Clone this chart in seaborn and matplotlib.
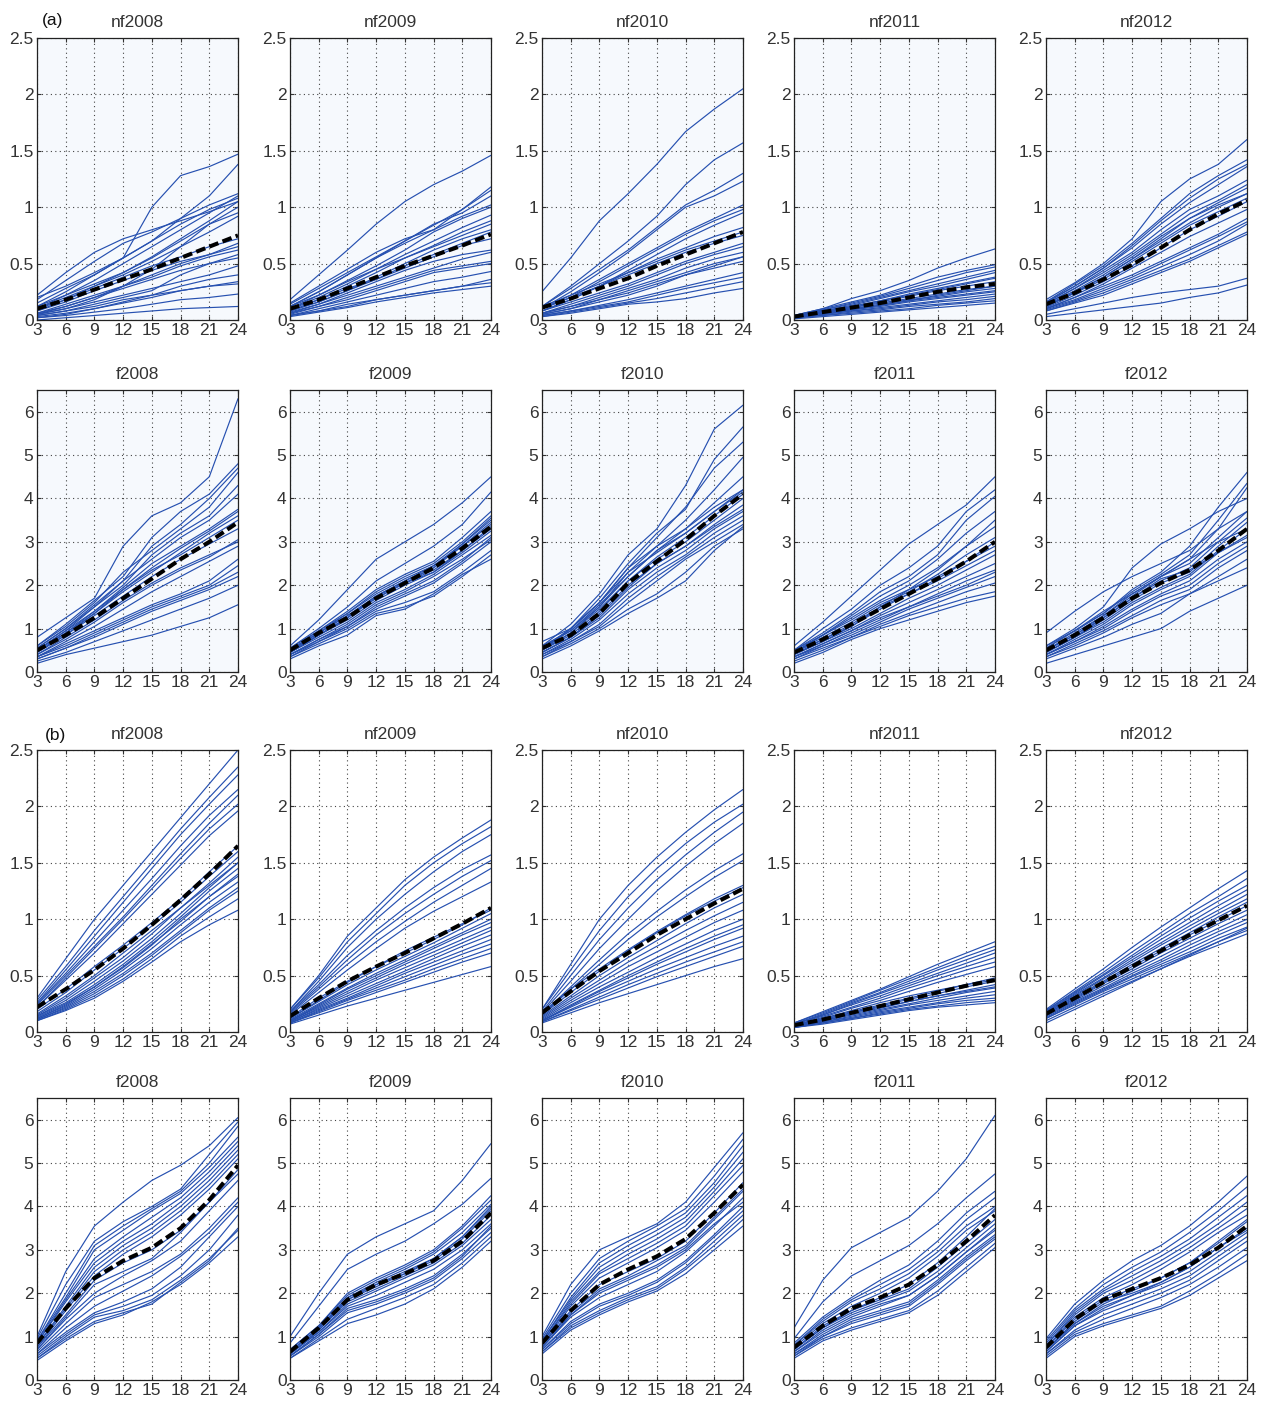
import numpy as np
import pandas as pd
import matplotlib
matplotlib.use("Agg")
import matplotlib.pyplot as plt
import seaborn as sns

months = [3, 6, 9, 12, 15, 18, 21, 24]
titles = ["nf2008", "nf2009", "nf2010", "nf2011", "nf2012",
          "f2008", "f2009", "f2010", "f2011", "f2012"]

# ---------------- group (a) ----------------
a_nf2008 = [
    [0.20, 0.30, 0.42, 0.55, 1.00, 1.28, 1.36, 1.47],
    [0.15, 0.28, 0.40, 0.55, 0.70, 0.90, 1.10, 1.38],
    [0.22, 0.42, 0.60, 0.72, 0.80, 0.88, 0.96, 1.05],
    [0.18, 0.35, 0.52, 0.68, 0.78, 0.90, 1.02, 1.12],
    [0.12, 0.25, 0.40, 0.55, 0.70, 0.85, 0.98, 1.08],
    [0.10, 0.22, 0.35, 0.50, 0.65, 0.80, 0.95, 1.10],
    [0.08, 0.18, 0.30, 0.42, 0.56, 0.72, 0.88, 1.05],
    [0.12, 0.22, 0.32, 0.42, 0.55, 0.70, 0.85, 0.95],
    [0.05, 0.10, 0.18, 0.30, 0.45, 0.65, 0.85, 1.00],
    [0.10, 0.18, 0.28, 0.38, 0.48, 0.56, 0.65, 0.72],
    [0.08, 0.16, 0.26, 0.35, 0.44, 0.52, 0.58, 0.65],
    [0.06, 0.14, 0.22, 0.30, 0.38, 0.48, 0.56, 0.62],
    [0.05, 0.12, 0.20, 0.28, 0.36, 0.44, 0.50, 0.58],
    [0.04, 0.08, 0.14, 0.20, 0.26, 0.40, 0.50, 0.55],
    [0.05, 0.10, 0.16, 0.22, 0.28, 0.34, 0.40, 0.48],
    [0.03, 0.06, 0.10, 0.16, 0.22, 0.30, 0.36, 0.40],
    [0.02, 0.05, 0.10, 0.15, 0.20, 0.26, 0.30, 0.34],
    [0.04, 0.08, 0.12, 0.18, 0.22, 0.26, 0.30, 0.32],
    [0.02, 0.04, 0.07, 0.10, 0.14, 0.18, 0.20, 0.23],
    [0.00, 0.02, 0.04, 0.06, 0.08, 0.10, 0.11, 0.12],
    [0.06, 0.12, 0.20, 0.30, 0.40, 0.50, 0.58, 0.68],
    [0.10, 0.20, 0.30, 0.40, 0.52, 0.65, 0.78, 0.92],
]
a_nf2008_mean = [0.10, 0.18, 0.27, 0.36, 0.45, 0.55, 0.65, 0.75]

a_nf2009 = [
    [0.18, 0.40, 0.62, 0.85, 1.05, 1.20, 1.32, 1.46],
    [0.15, 0.30, 0.45, 0.60, 0.72, 0.80, 0.98, 1.18],
    [0.14, 0.28, 0.42, 0.56, 0.70, 0.84, 0.98, 1.15],
    [0.12, 0.25, 0.40, 0.55, 0.70, 0.85, 0.95, 1.10],
    [0.12, 0.25, 0.40, 0.55, 0.68, 0.80, 0.92, 1.02],
    [0.10, 0.22, 0.35, 0.48, 0.62, 0.78, 0.90, 1.00],
    [0.10, 0.20, 0.32, 0.45, 0.58, 0.70, 0.82, 0.93],
    [0.12, 0.22, 0.34, 0.45, 0.55, 0.66, 0.78, 0.88],
    [0.08, 0.18, 0.30, 0.42, 0.55, 0.65, 0.75, 0.85],
    [0.08, 0.16, 0.26, 0.38, 0.50, 0.62, 0.72, 0.80],
    [0.10, 0.18, 0.28, 0.36, 0.46, 0.56, 0.66, 0.72],
    [0.06, 0.14, 0.24, 0.34, 0.44, 0.52, 0.58, 0.62],
    [0.07, 0.14, 0.22, 0.30, 0.38, 0.46, 0.54, 0.60],
    [0.05, 0.12, 0.20, 0.28, 0.36, 0.44, 0.48, 0.52],
    [0.06, 0.12, 0.18, 0.26, 0.34, 0.42, 0.46, 0.50],
    [0.04, 0.10, 0.16, 0.22, 0.28, 0.34, 0.38, 0.43],
    [0.04, 0.08, 0.14, 0.18, 0.22, 0.26, 0.30, 0.36],
    [0.04, 0.08, 0.12, 0.18, 0.22, 0.26, 0.30, 0.33],
    [0.03, 0.07, 0.11, 0.16, 0.20, 0.24, 0.27, 0.30],
    [0.08, 0.16, 0.26, 0.36, 0.48, 0.58, 0.68, 0.78],
]
a_nf2009_mean = [0.10, 0.18, 0.28, 0.38, 0.48, 0.57, 0.66, 0.76]

a_nf2010 = [
    [0.25, 0.55, 0.88, 1.12, 1.38, 1.67, 1.87, 2.05],
    [0.12, 0.30, 0.50, 0.70, 0.92, 1.20, 1.42, 1.57],
    [0.12, 0.28, 0.45, 0.62, 0.82, 1.02, 1.15, 1.30],
    [0.10, 0.25, 0.42, 0.60, 0.80, 1.00, 1.10, 1.23],
    [0.10, 0.22, 0.36, 0.50, 0.64, 0.78, 0.90, 1.02],
    [0.10, 0.20, 0.34, 0.48, 0.62, 0.76, 0.88, 0.98],
    [0.08, 0.18, 0.30, 0.44, 0.58, 0.72, 0.84, 0.95],
    [0.12, 0.22, 0.32, 0.42, 0.52, 0.62, 0.70, 0.78],
    [0.10, 0.20, 0.30, 0.40, 0.50, 0.60, 0.68, 0.75],
    [0.08, 0.16, 0.24, 0.32, 0.42, 0.52, 0.60, 0.68],
    [0.06, 0.14, 0.22, 0.30, 0.40, 0.50, 0.58, 0.65],
    [0.06, 0.12, 0.20, 0.28, 0.36, 0.46, 0.54, 0.60],
    [0.05, 0.10, 0.18, 0.26, 0.34, 0.42, 0.50, 0.56],
    [0.05, 0.10, 0.16, 0.22, 0.30, 0.40, 0.46, 0.52],
    [0.04, 0.08, 0.13, 0.18, 0.24, 0.30, 0.36, 0.42],
    [0.04, 0.08, 0.12, 0.16, 0.22, 0.28, 0.33, 0.38],
    [0.03, 0.07, 0.11, 0.15, 0.19, 0.24, 0.29, 0.34],
    [0.03, 0.06, 0.10, 0.14, 0.16, 0.19, 0.24, 0.28],
    [0.08, 0.18, 0.30, 0.42, 0.54, 0.64, 0.74, 0.82],
    [0.06, 0.12, 0.18, 0.24, 0.32, 0.40, 0.48, 0.56],
]
a_nf2010_mean = [0.11, 0.19, 0.28, 0.37, 0.48, 0.58, 0.68, 0.78]

a_nf2011 = [
    [0.04, 0.10, 0.19, 0.26, 0.35, 0.46, 0.55, 0.63],
    [0.04, 0.10, 0.16, 0.22, 0.30, 0.38, 0.44, 0.49],
    [0.04, 0.09, 0.15, 0.21, 0.28, 0.35, 0.42, 0.47],
    [0.04, 0.09, 0.14, 0.20, 0.26, 0.32, 0.38, 0.44],
    [0.03, 0.08, 0.13, 0.19, 0.25, 0.30, 0.36, 0.42],
    [0.03, 0.08, 0.12, 0.17, 0.22, 0.27, 0.32, 0.37],
    [0.03, 0.07, 0.11, 0.16, 0.21, 0.26, 0.30, 0.34],
    [0.03, 0.07, 0.11, 0.15, 0.19, 0.23, 0.27, 0.30],
    [0.03, 0.06, 0.10, 0.14, 0.18, 0.21, 0.25, 0.28],
    [0.02, 0.06, 0.09, 0.12, 0.16, 0.19, 0.22, 0.25],
    [0.02, 0.05, 0.08, 0.11, 0.14, 0.17, 0.20, 0.23],
    [0.02, 0.05, 0.08, 0.10, 0.13, 0.16, 0.18, 0.21],
    [0.02, 0.04, 0.07, 0.09, 0.12, 0.14, 0.16, 0.19],
    [0.02, 0.04, 0.06, 0.08, 0.10, 0.13, 0.15, 0.17],
    [0.01, 0.03, 0.05, 0.07, 0.09, 0.11, 0.13, 0.15],
    [0.03, 0.07, 0.12, 0.17, 0.23, 0.28, 0.33, 0.38],
    [0.03, 0.06, 0.10, 0.13, 0.17, 0.20, 0.23, 0.26],
    [0.02, 0.05, 0.09, 0.13, 0.17, 0.22, 0.26, 0.30],
]
a_nf2011_mean = [0.03, 0.07, 0.11, 0.15, 0.20, 0.25, 0.29, 0.32]

a_nf2012 = [
    [0.18, 0.33, 0.50, 0.72, 1.05, 1.25, 1.38, 1.60],
    [0.16, 0.32, 0.48, 0.68, 0.90, 1.12, 1.28, 1.42],
    [0.16, 0.30, 0.46, 0.66, 0.88, 1.08, 1.25, 1.38],
    [0.15, 0.30, 0.46, 0.64, 0.85, 1.04, 1.20, 1.36],
    [0.14, 0.28, 0.44, 0.60, 0.80, 0.98, 1.10, 1.24],
    [0.14, 0.28, 0.42, 0.58, 0.76, 0.94, 1.06, 1.20],
    [0.13, 0.26, 0.40, 0.56, 0.74, 0.90, 1.04, 1.17],
    [0.12, 0.25, 0.38, 0.54, 0.70, 0.86, 1.00, 1.12],
    [0.12, 0.24, 0.36, 0.52, 0.68, 0.84, 0.96, 1.08],
    [0.11, 0.22, 0.34, 0.48, 0.64, 0.80, 0.92, 1.05],
    [0.10, 0.20, 0.30, 0.40, 0.52, 0.64, 0.76, 0.90],
    [0.10, 0.18, 0.28, 0.38, 0.50, 0.62, 0.74, 0.87],
    [0.09, 0.17, 0.26, 0.36, 0.47, 0.58, 0.70, 0.85],
    [0.08, 0.16, 0.24, 0.34, 0.44, 0.54, 0.66, 0.78],
    [0.08, 0.15, 0.22, 0.32, 0.42, 0.52, 0.64, 0.76],
    [0.05, 0.10, 0.15, 0.20, 0.24, 0.27, 0.30, 0.37],
    [0.03, 0.06, 0.09, 0.12, 0.15, 0.20, 0.24, 0.31],
    [0.12, 0.24, 0.38, 0.54, 0.72, 0.90, 1.02, 1.12],
    [0.10, 0.20, 0.32, 0.46, 0.60, 0.74, 0.86, 0.98],
]
a_nf2012_mean = [0.14, 0.24, 0.36, 0.49, 0.64, 0.80, 0.94, 1.06]

a_f2008 = [
    [0.80, 1.25, 1.70, 2.90, 3.60, 3.90, 4.50, 6.30],
    [0.60, 1.10, 1.65, 2.20, 3.10, 3.70, 4.10, 4.80],
    [0.55, 1.00, 1.55, 2.10, 2.90, 3.40, 4.00, 4.70],
    [0.60, 1.05, 1.60, 2.30, 2.80, 3.30, 3.80, 4.60],
    [0.50, 0.95, 1.50, 2.00, 2.70, 3.20, 3.60, 4.30],
    [0.55, 1.00, 1.50, 2.10, 2.60, 3.10, 3.50, 4.10],
    [0.50, 0.95, 1.40, 1.95, 2.50, 2.90, 3.30, 3.75],
    [0.45, 0.90, 1.40, 1.90, 2.40, 2.85, 3.25, 3.70],
    [0.50, 0.90, 1.35, 1.85, 2.30, 2.75, 3.20, 3.60],
    [0.45, 0.85, 1.30, 1.75, 2.20, 2.60, 2.95, 3.30],
    [0.40, 0.80, 1.20, 1.65, 2.05, 2.40, 2.70, 3.00],
    [0.40, 0.75, 1.15, 1.60, 2.00, 2.35, 2.65, 3.05],
    [0.35, 0.70, 1.05, 1.45, 1.85, 2.20, 2.55, 2.90],
    [0.35, 0.65, 0.95, 1.25, 1.55, 1.80, 2.10, 2.60],
    [0.35, 0.60, 0.90, 1.20, 1.50, 1.75, 2.00, 2.45],
    [0.30, 0.55, 0.85, 1.15, 1.45, 1.70, 1.95, 2.30],
    [0.30, 0.55, 0.80, 1.10, 1.40, 1.65, 1.90, 2.20],
    [0.25, 0.45, 0.70, 0.95, 1.20, 1.45, 1.70, 2.00],
    [0.20, 0.40, 0.55, 0.70, 0.85, 1.05, 1.25, 1.55],
    [0.45, 0.85, 1.35, 1.90, 2.35, 2.70, 3.10, 3.50],
]
a_f2008_mean = [0.50, 0.85, 1.25, 1.70, 2.15, 2.60, 3.00, 3.45]

a_f2009 = [
    [0.60, 1.20, 1.90, 2.60, 3.00, 3.40, 3.90, 4.50],
    [0.55, 1.00, 1.50, 2.10, 2.50, 2.90, 3.40, 4.15],
    [0.55, 0.95, 1.40, 1.90, 2.25, 2.55, 3.10, 3.70],
    [0.50, 0.90, 1.35, 1.85, 2.20, 2.50, 3.00, 3.60],
    [0.50, 0.95, 1.35, 1.80, 2.15, 2.45, 2.95, 3.55],
    [0.50, 0.90, 1.30, 1.75, 2.10, 2.40, 2.90, 3.45],
    [0.45, 0.85, 1.25, 1.75, 2.10, 2.45, 2.90, 3.40],
    [0.45, 0.85, 1.25, 1.70, 2.05, 2.35, 2.80, 3.30],
    [0.50, 0.85, 1.20, 1.65, 2.00, 2.30, 2.75, 3.25],
    [0.45, 0.80, 1.15, 1.60, 1.90, 2.25, 2.70, 3.15],
    [0.40, 0.75, 1.10, 1.55, 1.85, 2.20, 2.60, 3.05],
    [0.40, 0.75, 1.05, 1.45, 1.75, 2.05, 2.50, 3.00],
    [0.35, 0.70, 1.00, 1.40, 1.60, 1.85, 2.30, 2.80],
    [0.35, 0.65, 0.95, 1.35, 1.50, 1.75, 2.20, 2.70],
    [0.30, 0.60, 0.85, 1.30, 1.45, 1.80, 2.25, 2.60],
    [0.40, 0.70, 1.05, 1.50, 1.80, 2.10, 2.55, 3.10],
    [0.45, 0.85, 1.25, 1.75, 2.05, 2.30, 2.80, 3.35],
    [0.50, 0.90, 1.30, 1.70, 2.05, 2.40, 2.95, 3.50],
]
a_f2009_mean = [0.50, 0.90, 1.25, 1.70, 2.05, 2.40, 2.85, 3.35]

a_f2010 = [
    [0.60, 1.10, 1.80, 2.70, 3.30, 4.30, 5.60, 6.15],
    [0.55, 1.00, 1.70, 2.50, 3.20, 3.75, 4.90, 5.65],
    [0.50, 1.00, 1.60, 2.40, 3.10, 3.80, 4.70, 5.30],
    [0.50, 1.00, 1.60, 2.30, 2.90, 3.50, 4.20, 4.95],
    [0.55, 0.95, 1.55, 2.20, 2.80, 3.30, 3.90, 4.50],
    [0.50, 0.90, 1.50, 2.20, 2.80, 3.20, 3.70, 4.20],
    [0.50, 0.90, 1.45, 2.10, 2.65, 3.10, 3.60, 4.10],
    [0.50, 0.85, 1.40, 2.10, 2.60, 3.00, 3.50, 4.00],
    [0.45, 0.80, 1.30, 1.95, 2.50, 2.90, 3.40, 3.85],
    [0.45, 0.80, 1.25, 1.90, 2.40, 2.80, 3.30, 3.70],
    [0.40, 0.75, 1.20, 1.80, 2.30, 2.70, 3.20, 3.60],
    [0.40, 0.70, 1.10, 1.70, 2.20, 2.65, 3.10, 3.50],
    [0.35, 0.70, 1.05, 1.60, 2.10, 2.60, 3.00, 3.40],
    [0.35, 0.65, 1.00, 1.45, 1.80, 2.30, 2.90, 3.30],
    [0.30, 0.60, 0.95, 1.35, 1.70, 2.10, 2.80, 3.35],
    [0.70, 1.00, 1.60, 2.40, 2.90, 3.30, 3.80, 4.20],
    [0.60, 0.95, 1.50, 2.30, 2.75, 3.20, 3.70, 4.15],
    [0.45, 0.80, 1.35, 2.00, 2.50, 2.90, 3.35, 3.75],
]
a_f2010_mean = [0.55, 0.85, 1.35, 2.05, 2.55, 3.05, 3.60, 4.10]

a_f2011 = [
    [0.60, 1.15, 1.75, 2.35, 2.95, 3.40, 3.85, 4.50],
    [0.50, 1.00, 1.45, 2.00, 2.40, 2.90, 3.70, 4.20],
    [0.50, 0.90, 1.35, 1.85, 2.20, 2.70, 3.50, 4.05],
    [0.45, 0.85, 1.30, 1.75, 2.10, 2.60, 3.20, 3.70],
    [0.45, 0.85, 1.20, 1.60, 1.90, 2.35, 2.90, 3.35],
    [0.45, 0.80, 1.15, 1.55, 1.85, 2.25, 2.70, 3.10],
    [0.45, 0.75, 1.05, 1.45, 1.80, 2.15, 2.55, 3.00],
    [0.40, 0.70, 1.05, 1.50, 1.90, 2.20, 2.55, 2.90],
    [0.40, 0.70, 1.00, 1.35, 1.70, 2.00, 2.35, 2.70],
    [0.35, 0.65, 0.95, 1.30, 1.60, 1.90, 2.20, 2.50],
    [0.35, 0.60, 0.90, 1.20, 1.50, 1.80, 2.10, 2.35],
    [0.30, 0.60, 0.85, 1.15, 1.45, 1.70, 1.95, 2.20],
    [0.30, 0.55, 0.80, 1.10, 1.35, 1.60, 1.85, 2.05],
    [0.25, 0.50, 0.80, 1.05, 1.30, 1.50, 1.70, 1.85],
    [0.20, 0.45, 0.75, 1.00, 1.20, 1.40, 1.60, 1.75],
    [0.50, 0.85, 1.25, 1.65, 2.00, 2.40, 2.90, 3.50],
    [0.40, 0.75, 1.10, 1.50, 1.80, 2.10, 2.45, 2.80],
    [0.35, 0.65, 0.95, 1.25, 1.50, 1.75, 2.00, 2.30],
]
a_f2011_mean = [0.45, 0.75, 1.10, 1.45, 1.80, 2.15, 2.55, 3.00]

a_f2012 = [
    [0.90, 1.40, 1.85, 2.20, 2.50, 2.80, 3.30, 3.70],
    [0.60, 1.00, 1.50, 2.40, 2.95, 3.30, 3.70, 4.00],
    [0.60, 0.95, 1.35, 1.90, 2.30, 2.90, 3.80, 4.60],
    [0.55, 0.95, 1.35, 1.85, 2.25, 2.70, 3.50, 4.35],
    [0.55, 0.95, 1.40, 1.80, 2.20, 2.60, 3.30, 4.25],
    [0.50, 0.90, 1.30, 1.75, 2.20, 2.50, 3.10, 3.70],
    [0.50, 0.85, 1.25, 1.70, 2.10, 2.40, 3.00, 3.55],
    [0.45, 0.80, 1.20, 1.65, 2.05, 2.30, 2.90, 3.45],
    [0.45, 0.80, 1.15, 1.60, 1.95, 2.25, 2.80, 3.30],
    [0.40, 0.75, 1.10, 1.55, 1.90, 2.20, 2.75, 3.15],
    [0.40, 0.70, 1.05, 1.45, 1.80, 2.10, 2.60, 3.00],
    [0.40, 0.70, 1.00, 1.40, 1.75, 2.00, 2.50, 2.90],
    [0.35, 0.65, 0.95, 1.30, 1.65, 1.90, 2.40, 2.80],
    [0.35, 0.60, 0.90, 1.25, 1.55, 1.80, 2.20, 2.60],
    [0.30, 0.55, 0.80, 1.10, 1.35, 1.80, 2.10, 2.40],
    [0.20, 0.40, 0.60, 0.80, 1.00, 1.40, 1.70, 2.00],
    [0.50, 0.85, 1.30, 1.80, 2.20, 2.60, 3.00, 3.30],
    [0.45, 0.80, 1.25, 1.70, 2.15, 2.35, 2.75, 3.10],
]
a_f2012_mean = [0.50, 0.85, 1.25, 1.70, 2.05, 2.35, 2.80, 3.30]

# ---------------- group (b) ----------------
b_nf2008 = [
    [0.30, 0.65, 1.00, 1.30, 1.60, 1.90, 2.20, 2.50],
    [0.28, 0.58, 0.90, 1.20, 1.50, 1.80, 2.08, 2.35],
    [0.26, 0.55, 0.85, 1.15, 1.45, 1.75, 2.02, 2.28],
    [0.25, 0.52, 0.80, 1.08, 1.36, 1.65, 1.92, 2.15],
    [0.24, 0.50, 0.76, 1.02, 1.30, 1.58, 1.85, 2.10],
    [0.22, 0.48, 0.74, 1.00, 1.27, 1.54, 1.80, 2.02],
    [0.22, 0.46, 0.70, 0.96, 1.22, 1.48, 1.74, 1.96],
    [0.20, 0.38, 0.58, 0.77, 0.97, 1.18, 1.42, 1.65],
    [0.18, 0.35, 0.55, 0.74, 0.94, 1.15, 1.38, 1.60],
    [0.15, 0.30, 0.48, 0.66, 0.87, 1.10, 1.32, 1.55],
    [0.14, 0.28, 0.45, 0.63, 0.83, 1.05, 1.28, 1.50],
    [0.14, 0.26, 0.42, 0.60, 0.80, 1.02, 1.25, 1.45],
    [0.12, 0.24, 0.40, 0.57, 0.77, 1.00, 1.20, 1.38],
    [0.12, 0.23, 0.38, 0.55, 0.74, 0.95, 1.15, 1.33],
    [0.11, 0.22, 0.36, 0.52, 0.70, 0.90, 1.10, 1.28],
    [0.11, 0.21, 0.34, 0.50, 0.68, 0.88, 1.08, 1.25],
    [0.10, 0.20, 0.32, 0.47, 0.65, 0.85, 1.02, 1.18],
    [0.10, 0.19, 0.30, 0.45, 0.62, 0.80, 0.95, 1.08],
    [0.13, 0.25, 0.40, 0.58, 0.78, 0.98, 1.20, 1.40],
    [0.16, 0.32, 0.50, 0.70, 0.90, 1.10, 1.30, 1.50],
]
b_nf2008_mean = [0.22, 0.38, 0.55, 0.74, 0.95, 1.17, 1.40, 1.65]

b_nf2009 = [
    [0.20, 0.50, 0.85, 1.10, 1.35, 1.55, 1.72, 1.88],
    [0.20, 0.48, 0.80, 1.05, 1.30, 1.50, 1.67, 1.82],
    [0.18, 0.45, 0.75, 1.00, 1.22, 1.42, 1.60, 1.75],
    [0.18, 0.42, 0.68, 0.90, 1.10, 1.28, 1.44, 1.57],
    [0.17, 0.40, 0.64, 0.86, 1.05, 1.22, 1.38, 1.52],
    [0.16, 0.38, 0.60, 0.80, 0.98, 1.15, 1.30, 1.45],
    [0.15, 0.35, 0.55, 0.74, 0.92, 1.07, 1.20, 1.33],
    [0.13, 0.30, 0.45, 0.58, 0.70, 0.82, 0.95, 1.10],
    [0.12, 0.27, 0.42, 0.55, 0.67, 0.79, 0.92, 1.05],
    [0.11, 0.25, 0.39, 0.52, 0.64, 0.76, 0.88, 1.00],
    [0.10, 0.23, 0.36, 0.48, 0.60, 0.71, 0.82, 0.93],
    [0.10, 0.22, 0.34, 0.46, 0.57, 0.68, 0.79, 0.90],
    [0.09, 0.21, 0.32, 0.43, 0.54, 0.65, 0.76, 0.86],
    [0.09, 0.20, 0.30, 0.41, 0.52, 0.62, 0.72, 0.82],
    [0.08, 0.19, 0.29, 0.39, 0.49, 0.59, 0.69, 0.78],
    [0.08, 0.18, 0.28, 0.37, 0.46, 0.56, 0.65, 0.74],
    [0.08, 0.17, 0.26, 0.35, 0.44, 0.53, 0.62, 0.70],
    [0.07, 0.15, 0.23, 0.30, 0.37, 0.44, 0.51, 0.58],
    [0.12, 0.28, 0.44, 0.58, 0.72, 0.84, 0.96, 1.08],
    [0.10, 0.24, 0.38, 0.50, 0.62, 0.74, 0.86, 0.97],
]
b_nf2009_mean = [0.14, 0.30, 0.45, 0.58, 0.70, 0.83, 0.96, 1.10]

b_nf2010 = [
    [0.20, 0.60, 1.00, 1.30, 1.55, 1.77, 1.97, 2.15],
    [0.20, 0.55, 0.90, 1.20, 1.45, 1.67, 1.86, 2.02],
    [0.18, 0.50, 0.82, 1.10, 1.35, 1.57, 1.77, 1.95],
    [0.17, 0.45, 0.74, 1.00, 1.25, 1.47, 1.67, 1.85],
    [0.16, 0.40, 0.64, 0.87, 1.07, 1.26, 1.43, 1.58],
    [0.15, 0.38, 0.60, 0.82, 1.02, 1.20, 1.37, 1.52],
    [0.17, 0.38, 0.56, 0.73, 0.89, 1.04, 1.18, 1.30],
    [0.14, 0.32, 0.50, 0.66, 0.81, 0.96, 1.10, 1.22],
    [0.13, 0.30, 0.46, 0.62, 0.76, 0.90, 1.03, 1.15],
    [0.12, 0.28, 0.43, 0.58, 0.71, 0.84, 0.97, 1.08],
    [0.11, 0.26, 0.40, 0.53, 0.66, 0.78, 0.90, 1.00],
    [0.10, 0.24, 0.37, 0.50, 0.62, 0.74, 0.85, 0.95],
    [0.10, 0.23, 0.36, 0.48, 0.60, 0.71, 0.82, 0.92],
    [0.10, 0.22, 0.34, 0.45, 0.56, 0.66, 0.76, 0.85],
    [0.09, 0.20, 0.31, 0.42, 0.52, 0.62, 0.71, 0.80],
    [0.09, 0.19, 0.29, 0.39, 0.49, 0.58, 0.67, 0.76],
    [0.08, 0.17, 0.26, 0.34, 0.42, 0.50, 0.58, 0.65],
    [0.15, 0.35, 0.54, 0.72, 0.88, 1.03, 1.16, 1.28],
]
b_nf2010_mean = [0.17, 0.36, 0.54, 0.70, 0.86, 1.00, 1.14, 1.27]

b_nf2011 = [
    [0.08, 0.18, 0.28, 0.38, 0.49, 0.60, 0.70, 0.80],
    [0.08, 0.17, 0.27, 0.37, 0.47, 0.57, 0.67, 0.76],
    [0.07, 0.16, 0.26, 0.35, 0.45, 0.55, 0.64, 0.73],
    [0.07, 0.15, 0.25, 0.34, 0.43, 0.52, 0.61, 0.70],
    [0.07, 0.15, 0.24, 0.32, 0.41, 0.50, 0.58, 0.66],
    [0.07, 0.14, 0.22, 0.30, 0.39, 0.47, 0.55, 0.62],
    [0.06, 0.13, 0.21, 0.28, 0.36, 0.44, 0.51, 0.58],
    [0.06, 0.12, 0.18, 0.24, 0.30, 0.36, 0.42, 0.48],
    [0.06, 0.11, 0.17, 0.23, 0.29, 0.34, 0.40, 0.45],
    [0.05, 0.10, 0.16, 0.21, 0.27, 0.32, 0.37, 0.42],
    [0.05, 0.10, 0.15, 0.20, 0.25, 0.30, 0.35, 0.39],
    [0.05, 0.09, 0.14, 0.19, 0.24, 0.28, 0.32, 0.36],
    [0.04, 0.09, 0.13, 0.18, 0.22, 0.26, 0.30, 0.33],
    [0.04, 0.08, 0.12, 0.17, 0.21, 0.25, 0.28, 0.30],
    [0.04, 0.08, 0.12, 0.16, 0.20, 0.23, 0.26, 0.28],
    [0.04, 0.07, 0.11, 0.15, 0.19, 0.22, 0.24, 0.26],
    [0.06, 0.12, 0.19, 0.26, 0.32, 0.37, 0.42, 0.46],
    [0.05, 0.11, 0.17, 0.22, 0.27, 0.32, 0.36, 0.40],
]
b_nf2011_mean = [0.06, 0.11, 0.17, 0.23, 0.29, 0.35, 0.41, 0.46]

b_nf2012 = [
    [0.20, 0.38, 0.56, 0.75, 0.93, 1.10, 1.27, 1.43],
    [0.19, 0.36, 0.53, 0.71, 0.88, 1.05, 1.20, 1.36],
    [0.19, 0.35, 0.51, 0.68, 0.85, 1.01, 1.16, 1.30],
    [0.18, 0.34, 0.50, 0.66, 0.82, 0.97, 1.12, 1.26],
    [0.18, 0.33, 0.48, 0.64, 0.79, 0.94, 1.08, 1.22],
    [0.17, 0.32, 0.47, 0.62, 0.77, 0.91, 1.05, 1.18],
    [0.17, 0.31, 0.45, 0.60, 0.74, 0.88, 1.02, 1.15],
    [0.16, 0.30, 0.44, 0.58, 0.72, 0.86, 0.99, 1.12],
    [0.16, 0.29, 0.43, 0.56, 0.70, 0.83, 0.96, 1.08],
    [0.15, 0.28, 0.41, 0.54, 0.67, 0.80, 0.92, 1.04],
    [0.14, 0.27, 0.39, 0.52, 0.64, 0.77, 0.89, 1.00],
    [0.13, 0.26, 0.38, 0.50, 0.62, 0.74, 0.86, 0.97],
    [0.12, 0.25, 0.37, 0.49, 0.60, 0.71, 0.83, 0.93],
    [0.12, 0.24, 0.36, 0.47, 0.58, 0.69, 0.80, 0.90],
    [0.10, 0.22, 0.34, 0.45, 0.56, 0.67, 0.77, 0.87],
    [0.08, 0.20, 0.32, 0.44, 0.56, 0.68, 0.80, 0.92],
]
b_nf2012_mean = [0.16, 0.30, 0.44, 0.58, 0.72, 0.86, 0.99, 1.12]

b_f2008 = [
    [1.00, 2.50, 3.55, 4.10, 4.60, 4.95, 5.40, 6.05],
    [0.95, 2.20, 3.20, 3.65, 4.00, 4.40, 5.20, 5.95],
    [0.90, 2.00, 3.10, 3.55, 3.95, 4.35, 5.00, 5.85],
    [0.90, 1.90, 3.00, 3.45, 3.90, 4.30, 4.90, 5.60],
    [0.85, 1.85, 2.80, 3.30, 3.75, 4.20, 4.80, 5.50],
    [0.85, 1.80, 2.70, 3.20, 3.60, 4.10, 4.70, 5.40],
    [0.80, 1.70, 2.60, 3.10, 3.50, 4.00, 4.60, 5.30],
    [0.80, 1.65, 2.50, 3.00, 3.40, 3.90, 4.50, 5.20],
    [0.75, 1.60, 2.40, 2.90, 3.30, 3.80, 4.40, 5.10],
    [0.70, 1.45, 2.20, 2.50, 2.80, 3.40, 4.10, 4.75],
    [0.70, 1.40, 2.00, 2.40, 2.75, 3.20, 3.90, 4.60],
    [0.65, 1.30, 1.90, 2.20, 2.50, 2.90, 3.50, 4.20],
    [0.60, 1.20, 1.70, 2.05, 2.40, 2.85, 3.40, 4.10],
    [0.60, 1.10, 1.55, 1.80, 2.10, 2.60, 3.30, 4.00],
    [0.55, 1.05, 1.50, 1.70, 1.95, 2.40, 3.00, 3.80],
    [0.50, 1.00, 1.45, 1.60, 1.85, 2.30, 2.80, 3.45],
    [0.45, 0.90, 1.30, 1.50, 1.80, 2.20, 2.70, 3.30],
    [0.50, 0.95, 1.35, 1.55, 1.75, 2.25, 2.75, 3.50],
    [0.75, 1.50, 2.30, 2.70, 3.00, 3.45, 4.10, 4.85],
]
b_f2008_mean = [0.85, 1.65, 2.35, 2.75, 3.05, 3.50, 4.15, 4.95]

b_f2009 = [
    [1.00, 2.00, 2.90, 3.30, 3.60, 3.90, 4.60, 5.45],
    [0.85, 1.70, 2.55, 2.90, 3.20, 3.60, 4.05, 4.65],
    [0.70, 1.25, 2.00, 2.35, 2.65, 3.00, 3.55, 4.25],
    [0.70, 1.25, 1.95, 2.30, 2.60, 2.95, 3.50, 4.15],
    [0.65, 1.20, 1.90, 2.25, 2.55, 2.90, 3.40, 4.05],
    [0.65, 1.20, 1.85, 2.20, 2.50, 2.80, 3.30, 3.95],
    [0.60, 1.15, 1.80, 2.10, 2.40, 2.70, 3.15, 3.80],
    [0.60, 1.10, 1.75, 2.05, 2.35, 2.65, 3.10, 3.70],
    [0.60, 1.10, 1.70, 1.95, 2.25, 2.55, 3.00, 3.60],
    [0.55, 1.05, 1.65, 1.85, 2.10, 2.40, 2.90, 3.50],
    [0.55, 1.00, 1.55, 1.75, 2.00, 2.30, 2.80, 3.40],
    [0.50, 0.95, 1.40, 1.65, 1.90, 2.20, 2.70, 3.30],
    [0.50, 0.90, 1.30, 1.50, 1.75, 2.10, 2.60, 3.20],
    [0.55, 1.05, 1.60, 1.80, 2.05, 2.35, 2.85, 3.55],
    [0.60, 1.15, 1.85, 2.15, 2.45, 2.75, 3.25, 3.90],
    [0.65, 1.20, 1.90, 2.20, 2.45, 2.80, 3.30, 4.00],
]
b_f2009_mean = [0.65, 1.20, 1.85, 2.20, 2.45, 2.75, 3.20, 3.85]

b_f2010 = [
    [1.00, 2.20, 3.00, 3.30, 3.60, 4.10, 4.90, 5.70],
    [0.95, 2.00, 2.80, 3.20, 3.55, 3.95, 4.70, 5.55],
    [0.90, 1.90, 2.70, 3.10, 3.45, 3.85, 4.55, 5.40],
    [0.90, 1.85, 2.60, 3.00, 3.35, 3.75, 4.45, 5.25],
    [0.85, 1.80, 2.50, 2.90, 3.25, 3.65, 4.35, 5.10],
    [0.85, 1.75, 2.45, 2.80, 3.15, 3.55, 4.25, 4.95],
    [0.80, 1.70, 2.35, 2.70, 3.05, 3.45, 4.10, 4.80],
    [0.80, 1.60, 2.20, 2.50, 2.80, 3.20, 3.85, 4.55],
    [0.75, 1.50, 2.05, 2.35, 2.65, 3.05, 3.70, 4.35],
    [0.75, 1.45, 1.90, 2.20, 2.50, 2.95, 3.55, 4.20],
    [0.70, 1.35, 1.75, 2.00, 2.30, 2.75, 3.35, 4.00],
    [0.70, 1.30, 1.70, 1.95, 2.25, 2.70, 3.30, 3.90],
    [0.65, 1.25, 1.60, 1.90, 2.15, 2.60, 3.20, 3.80],
    [0.65, 1.20, 1.55, 1.85, 2.10, 2.55, 3.10, 3.70],
    [0.60, 1.15, 1.50, 1.80, 2.05, 2.45, 3.00, 3.55],
    [0.80, 1.55, 2.10, 2.40, 2.75, 3.10, 3.75, 4.40],
    [0.75, 1.50, 2.00, 2.30, 2.60, 3.00, 3.60, 4.10],
]
b_f2010_mean = [0.85, 1.60, 2.20, 2.55, 2.85, 3.25, 3.85, 4.50]

b_f2011 = [
    [1.20, 2.30, 3.05, 3.40, 3.75, 4.35, 5.10, 6.10],
    [0.95, 1.80, 2.40, 2.75, 3.10, 3.60, 4.20, 4.75],
    [0.85, 1.45, 1.90, 2.30, 2.65, 3.20, 3.85, 4.35],
    [0.80, 1.40, 1.85, 2.20, 2.55, 3.05, 3.70, 4.20],
    [0.80, 1.35, 1.80, 2.10, 2.45, 2.95, 3.55, 4.00],
    [0.75, 1.30, 1.70, 2.00, 2.35, 2.85, 3.45, 3.90],
    [0.70, 1.25, 1.60, 1.85, 2.10, 2.60, 3.15, 3.70],
    [0.70, 1.20, 1.55, 1.80, 2.05, 2.50, 3.05, 3.60],
    [0.65, 1.15, 1.50, 1.75, 1.95, 2.40, 2.95, 3.50],
    [0.60, 1.05, 1.40, 1.60, 1.80, 2.30, 2.85, 3.35],
    [0.60, 1.00, 1.30, 1.50, 1.70, 2.20, 2.75, 3.25],
    [0.55, 0.95, 1.20, 1.40, 1.60, 2.05, 2.60, 3.15],
    [0.50, 0.90, 1.15, 1.35, 1.55, 1.95, 2.50, 3.05],
    [0.55, 1.00, 1.35, 1.55, 1.75, 2.25, 2.80, 3.30],
    [0.70, 1.20, 1.60, 1.90, 2.20, 2.70, 3.30, 3.95],
    [0.65, 1.10, 1.45, 1.70, 1.95, 2.40, 2.95, 3.45],
]
b_f2011_mean = [0.75, 1.25, 1.65, 1.90, 2.20, 2.65, 3.20, 3.80]

b_f2012 = [
    [0.95, 1.75, 2.30, 2.75, 3.10, 3.55, 4.10, 4.70],
    [0.90, 1.65, 2.20, 2.60, 2.95, 3.40, 3.90, 4.45],
    [0.85, 1.60, 2.10, 2.50, 2.85, 3.25, 3.75, 4.25],
    [0.80, 1.55, 2.05, 2.40, 2.75, 3.15, 3.60, 4.10],
    [0.80, 1.50, 2.00, 2.30, 2.65, 3.05, 3.50, 3.95],
    [0.75, 1.45, 1.90, 2.20, 2.55, 2.95, 3.40, 3.80],
    [0.75, 1.40, 1.85, 2.10, 2.35, 2.70, 3.15, 3.65],
    [0.70, 1.35, 1.80, 2.00, 2.25, 2.60, 3.05, 3.50],
    [0.70, 1.30, 1.70, 1.95, 2.20, 2.50, 2.95, 3.40],
    [0.65, 1.25, 1.60, 1.85, 2.10, 2.40, 2.85, 3.30],
    [0.60, 1.15, 1.50, 1.75, 2.00, 2.30, 2.75, 3.20],
    [0.60, 1.10, 1.40, 1.65, 1.90, 2.20, 2.60, 3.05],
    [0.55, 1.05, 1.30, 1.50, 1.70, 2.05, 2.45, 2.90],
    [0.50, 1.00, 1.25, 1.45, 1.65, 1.95, 2.35, 2.75],
    [0.70, 1.30, 1.75, 2.05, 2.35, 2.70, 3.20, 3.70],
    [0.65, 1.25, 1.65, 1.95, 2.25, 2.60, 3.05, 3.45],
]
b_f2012_mean = [0.75, 1.40, 1.85, 2.10, 2.35, 2.65, 3.05, 3.55]

groups = {
    "a": [(a_nf2008, a_nf2008_mean), (a_nf2009, a_nf2009_mean), (a_nf2010, a_nf2010_mean),
          (a_nf2011, a_nf2011_mean), (a_nf2012, a_nf2012_mean),
          (a_f2008, a_f2008_mean), (a_f2009, a_f2009_mean), (a_f2010, a_f2010_mean),
          (a_f2011, a_f2011_mean), (a_f2012, a_f2012_mean)],
    "b": [(b_nf2008, b_nf2008_mean), (b_nf2009, b_nf2009_mean), (b_nf2010, b_nf2010_mean),
          (b_nf2011, b_nf2011_mean), (b_nf2012, b_nf2012_mean),
          (b_f2008, b_f2008_mean), (b_f2009, b_f2009_mean), (b_f2010, b_f2010_mean),
          (b_f2011, b_f2011_mean), (b_f2012, b_f2012_mean)],
}

nf_yticks = [0, 0.5, 1, 1.5, 2, 2.5]
nf_ylabels = ["0", "0.5", "1", "1.5", "2", "2.5"]
f_yticks = [0, 1, 2, 3, 4, 5, 6]
f_ylabels = ["0", "1", "2", "3", "4", "5", "6"]

# ---------------- figure ----------------
sns.set_theme(style="white")
plt.rcParams["font.family"] = ["Liberation Sans", "DejaVu Sans"]

W, H = 1263, 1402
fig = plt.figure(figsize=(W / 100, H / 100), dpi=100)

col_left = [37, 290, 542, 794, 1046]
ax_w = 201
ax_h = 282
row_bottom = {"a": [320, 672], "b": [1032, 1380]}
face = {"a": "#f6f9fd", "b": "#ffffff"}
blue = "#2650b0"
text_col = "#333333"


def long_form(lines):
    rows = []
    for k, ys in enumerate(lines):
        for m, v in zip(months, ys):
            rows.append((k, m, v))
    return pd.DataFrame(rows, columns=["member", "month", "value"])


for g in ["a", "b"]:
    for i, (lines, mean) in enumerate(groups[g]):
        r, c = divmod(i, 5)
        bottom_px = row_bottom[g][r]
        ax = fig.add_axes([col_left[c] / W, 1 - bottom_px / H, ax_w / W, ax_h / H])
        ax.set_facecolor(face[g])

        df = long_form(lines)
        sns.lineplot(data=df, x="month", y="value", units="member", estimator=None,
                     color=blue, lw=0.85, ax=ax, legend=False)
        mdf = pd.DataFrame({"month": months, "value": mean})
        sns.lineplot(data=mdf, x="month", y="value", color="black", lw=2.9,
                     ax=ax, legend=False)
        ax.lines[-1].set_linestyle((0, (2.4, 1.1)))

        ax.set_xlim(3, 24)
        ax.set_xticks(months)
        ax.set_xticklabels([str(m) for m in months])
        if r == 0:
            ax.set_ylim(0, 2.5)
            ax.set_yticks(nf_yticks)
            ax.set_yticklabels(nf_ylabels)
        else:
            ax.set_ylim(0, 6.5)
            ax.set_yticks(f_yticks)
            ax.set_yticklabels(f_ylabels)
        ax.set_xlabel("")
        ax.set_ylabel("")
        ax.grid(True, color="#444444", linestyle=(0, (1, 3)), lw=0.8)
        ax.tick_params(direction="in", length=3, width=0.8, colors=text_col,
                       labelsize=12.5, pad=2.5, top=True, right=True,
                       bottom=True, left=True)
        for sp in ax.spines.values():
            sp.set_visible(True)
            sp.set_color("#222222")
            sp.set_linewidth(0.9)
        ax.set_title(titles[i], fontsize=12.5, color=text_col, pad=8)

fig.text(42 / W, 1 - 25 / H, "(a)", fontsize=12.5, color="#111111")
fig.text(45 / W, 1 - 740 / H, "(b)", fontsize=12.5, color="#111111")

fig.savefig("out.png", dpi=100)
